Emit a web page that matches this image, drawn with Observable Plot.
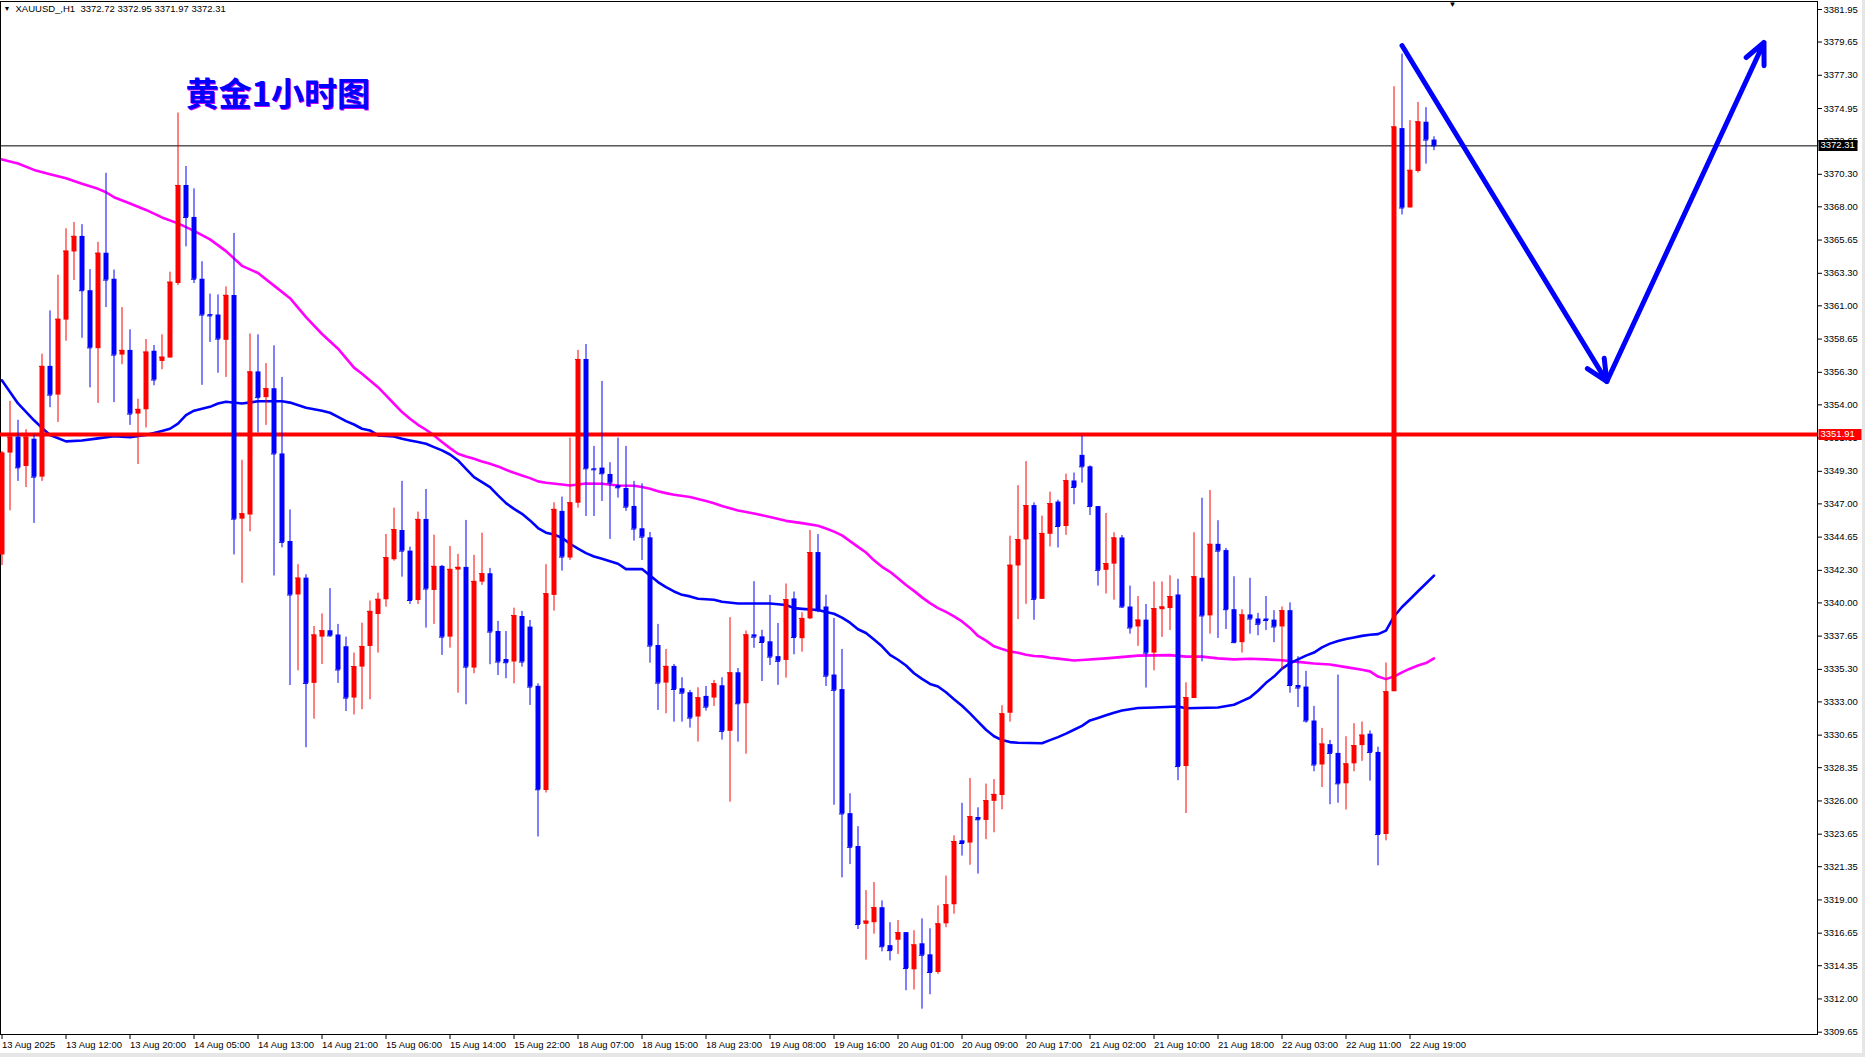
<!DOCTYPE html>
<html><head><meta charset="utf-8">
<script src="https://cdn.jsdelivr.net/npm/d3@7"></script>
<script src="https://cdn.jsdelivr.net/npm/@observablehq/plot@0.6"></script>
<style>
html,body{margin:0;padding:0;background:#fff;overflow:hidden}
#chart svg{display:block}
</style></head><body><div id="chart"></div>
<script>
// ---- OHLC (XAUUSD H1), bar 0 = 13 Aug 2025 ----
const opens = [3343.39,3350.59,3351.72,3349.64,3351.57,3348.89,3356.72,3354.69,3359.99,3364.81,3365.91,3362.07,3357.97,3364.72,3362.88,3357.52,3357.85,3353.35,3353.65,3357.79,3357.07,3357.31,3362.58,3369.51,3367.25,3362.88,3360.38,3360.35,3358.56,3361.74,3345.92,3346.21,3356.33,3354.51,3355.14,3350.53,3344.34,3340.56,3341.75,3334.31,3337.58,3338.03,3337.73,3336.90,3333.27,3335.46,3336.92,3339.18,3340.22,3343.05,3345.12,3343.66,3340.17,3345.90,3340.88,3342.58,3337.58,3342.32,3342.51,3335.39,3341.47,3342.06,3337.98,3336.00,3335.82,3339.04,3338.29,3334.10,3326.74,3340.53,3346.47,3343.17,3347.05,3357.21,3349.48,3349.53,3349.08,3348.28,3348.09,3346.82,3345.24,3344.60,3336.99,3334.33,3335.51,3333.93,3333.65,3331.93,3333.39,3333.27,3334.14,3330.92,3335.06,3332.87,3337.74,3337.60,3337.25,3336.20,3335.93,3340.28,3337.47,3338.87,3343.56,3339.71,3334.90,3333.87,3325.10,3322.78,3317.28,3317.39,3318.45,3315.77,3316.15,3316.69,3314.06,3315.90,3315.12,3313.87,3317.31,3318.66,3323.18,3323.02,3324.83,3324.62,3325.97,3326.38,3332.19,3342.61,3344.45,3346.88,3340.25,3344.85,3347.13,3345.40,3348.62,3350.43,3349.62,3346.81,3342.30,3342.74,3344.59,3339.71,3338.30,3338.78,3336.45,3339.52,3339.60,3340.56,3328.43,3333.24,3341.74,3339.08,3344.14,3343.70,3339.52,3337.19,3339.15,3338.86,3338.86,3338.78,3338.30,3339.45,3334.16,3334.05,3331.65,3328.54,3329.98,3329.36,3327.21,3328.62,3329.91,3330.72,3329.43,3323.63,3333.72,3373.53,3367.92,3370.50,3373.98,3372.72];
const highs = [3350.70,3354.25,3352.91,3352.25,3351.87,3357.58,3360.64,3363.17,3366.45,3366.89,3366.74,3363.56,3365.49,3370.37,3363.53,3360.88,3359.30,3354.40,3358.62,3358.20,3358.95,3363.38,3374.63,3370.85,3369.27,3364.12,3361.83,3361.77,3362.34,3366.12,3350.08,3359.01,3358.95,3356.92,3358.17,3355.94,3346.57,3342.70,3341.99,3338.33,3339.22,3341.01,3338.48,3337.58,3336.45,3338.57,3340.13,3340.69,3344.84,3346.70,3348.59,3343.94,3346.42,3348.02,3344.79,3342.65,3343.99,3343.43,3345.83,3343.36,3344.93,3342.44,3338.69,3337.98,3339.63,3339.40,3338.76,3334.28,3342.70,3347.08,3347.48,3351.65,3357.85,3358.27,3351.06,3355.65,3349.91,3351.65,3351.06,3348.59,3348.42,3344.98,3338.48,3336.71,3335.65,3334.71,3333.81,3334.00,3334.09,3334.52,3334.71,3338.96,3335.36,3338.01,3341.50,3338.06,3340.53,3338.55,3341.34,3340.77,3339.31,3345.12,3344.83,3340.55,3338.90,3336.71,3326.51,3324.18,3319.66,3320.23,3318.93,3317.39,3317.55,3316.69,3316.82,3317.66,3316.96,3318.58,3320.69,3323.53,3325.83,3327.59,3325.51,3327.19,3327.51,3332.73,3344.72,3348.29,3349.99,3347.07,3346.13,3347.83,3347.26,3349.10,3349.18,3351.80,3349.69,3346.81,3346.32,3344.96,3344.77,3341.19,3340.45,3339.89,3341.48,3341.48,3341.92,3341.67,3334.35,3344.96,3347.40,3347.95,3345.81,3343.85,3341.85,3339.52,3341.74,3339.26,3340.45,3339.45,3339.71,3340.00,3336.20,3335.16,3332.68,3331.13,3330.28,3334.90,3330.54,3331.46,3331.58,3330.95,3329.80,3335.75,3376.49,3378.80,3374.09,3375.38,3375.01,3372.95];
const lows = [3342.64,3346.51,3348.59,3348.15,3345.62,3348.59,3353.80,3352.76,3358.50,3362.79,3358.71,3355.20,3354.10,3360.88,3354.16,3356.84,3352.55,3349.78,3352.37,3355.35,3356.48,3357.31,3362.43,3365.17,3362.58,3355.38,3358.41,3356.24,3355.94,3343.39,3341.39,3345.02,3352.01,3352.55,3341.90,3343.89,3334.16,3335.20,3329.76,3331.78,3335.65,3337.58,3334.31,3332.32,3332.08,3332.45,3333.15,3336.45,3339.70,3342.95,3341.82,3339.89,3339.89,3338.22,3338.48,3336.29,3336.80,3333.62,3332.80,3334.99,3341.24,3335.63,3334.87,3334.64,3334.28,3335.46,3332.75,3323.45,3326.56,3339.42,3342.25,3343.00,3346.70,3346.11,3346.11,3347.17,3344.49,3347.41,3346.47,3344.37,3343.00,3335.74,3332.40,3332.16,3331.57,3331.57,3331.15,3330.16,3332.35,3332.68,3330.30,3325.91,3330.16,3329.30,3336.79,3334.44,3335.57,3334.17,3334.68,3336.33,3336.52,3338.82,3339.31,3334.09,3325.70,3320.56,3321.50,3316.91,3314.74,3316.58,3315.33,3314.69,3315.15,3312.58,3312.63,3311.28,3312.30,3313.74,3317.04,3317.99,3322.10,3321.45,3320.83,3323.26,3323.75,3325.37,3331.57,3338.82,3339.90,3338.77,3340.25,3343.96,3343.88,3344.77,3346.94,3348.47,3346.18,3341.19,3340.63,3340.19,3339.60,3337.79,3336.93,3333.98,3335.20,3337.56,3338.04,3327.43,3325.11,3333.24,3335.83,3337.79,3337.49,3338.12,3337.12,3336.45,3337.79,3337.67,3338.04,3337.19,3335.27,3333.61,3332.61,3331.50,3328.06,3326.95,3325.73,3325.84,3325.36,3328.06,3328.80,3327.40,3321.41,3323.18,3333.72,3367.43,3367.92,3370.39,3371.02,3371.97];
const closes = [3350.59,3351.72,3349.55,3351.72,3348.89,3356.72,3354.69,3360.05,3364.87,3365.91,3362.07,3358.03,3364.72,3362.82,3357.52,3357.85,3353.35,3353.68,3357.73,3355.76,3357.37,3362.67,3369.51,3367.25,3362.88,3360.35,3360.29,3358.65,3361.74,3345.92,3346.30,3356.33,3354.51,3355.14,3350.53,3344.28,3340.56,3341.75,3334.31,3337.73,3338.03,3337.67,3335.26,3333.27,3335.50,3336.92,3339.40,3340.25,3343.21,3345.19,3343.66,3340.17,3345.90,3340.98,3342.58,3337.58,3342.37,3342.51,3335.46,3341.52,3342.06,3337.94,3335.82,3335.77,3339.11,3335.82,3334.05,3326.79,3340.65,3346.61,3343.24,3347.08,3357.21,3349.48,3349.41,3349.13,3348.47,3348.14,3346.77,3345.22,3344.65,3336.95,3334.33,3335.51,3333.88,3333.62,3331.86,3333.29,3332.63,3334.28,3330.92,3335.06,3332.87,3337.74,3337.58,3337.20,3336.17,3335.87,3340.23,3337.55,3338.90,3343.56,3339.44,3334.82,3333.82,3325.08,3322.72,3317.26,3317.50,3318.45,3315.69,3315.42,3316.69,3314.15,3315.82,3315.09,3313.87,3317.31,3318.66,3323.13,3322.99,3324.89,3324.67,3326.02,3326.46,3332.16,3342.66,3344.48,3346.88,3340.25,3344.91,3347.02,3345.40,3348.64,3348.16,3349.62,3346.81,3342.30,3342.78,3344.59,3339.71,3338.23,3338.78,3336.45,3339.60,3339.71,3340.45,3328.43,3333.31,3341.85,3339.08,3344.14,3343.66,3339.52,3337.19,3339.15,3338.86,3338.49,3338.75,3338.30,3339.45,3334.16,3333.98,3331.65,3328.54,3330.02,3329.36,3327.21,3328.62,3329.91,3330.65,3329.43,3323.63,3333.72,3373.65,3367.92,3370.58,3374.01,3372.72,3372.31];

// ---- moving averages (bar index, value) ----
const maFastBars = [0,2,4,5,6,8,10,12,14,16,18,20,21,22,23,24,26,27,28,30,32,35,36,38,40,41,42,43,44,45,46,47,49,50,51,52,53,54,55,56,57,58,59,60,61,62,63,64,65,66,67,68,69,70,71,72,73,74,75,76,77,78,80,81,82,83,84,85,86,87,89,90,92,96,98,99,100,102,103,104,105,106,107,108,109,110,111,112,113,114,115,116,117,118,119,120,121,122,123,124,125,126,127,130,131,132,133,134,135,136,137,138,139,140,142,144,147,148,152,154,155,156,157,158,159,160,161,162,163,164,165,166,167,168,169,170,171,172,173,174,175,176,177,178,179];
const maFastVals = [3355.73,3354.10,3352.91,3352.37,3351.87,3351.42,3351.48,3351.63,3351.78,3351.72,3351.87,3352.16,3352.31,3352.67,3353.27,3353.59,3353.86,3354.10,3354.22,3354.10,3354.25,3354.25,3354.16,3353.80,3353.59,3353.44,3353.15,3352.85,3352.61,3352.31,3352.19,3351.84,3351.77,3351.60,3351.48,3351.37,3351.25,3351.01,3350.78,3350.49,3350.07,3349.48,3348.89,3348.54,3348.19,3347.60,3347.05,3346.65,3346.30,3345.83,3345.29,3344.96,3344.84,3344.60,3344.18,3343.83,3343.52,3343.28,3343.12,3342.95,3342.77,3342.39,3342.39,3341.94,3341.47,3341.12,3340.81,3340.57,3340.46,3340.29,3340.22,3340.08,3339.96,3339.96,3339.85,3339.63,3339.58,3339.50,3339.36,3339.23,3338.96,3338.60,3338.14,3337.87,3337.41,3336.93,3336.33,3335.98,3335.57,3335.03,3334.63,3334.27,3334.09,3333.68,3333.19,3332.73,3332.19,3331.60,3331.03,3330.57,3330.30,3330.16,3330.11,3330.08,3330.30,3330.51,3330.76,3331.03,3331.31,3331.69,3331.87,3332.06,3332.24,3332.39,3332.57,3332.61,3332.68,3332.55,3332.61,3332.80,3333.06,3333.31,3333.79,3334.35,3334.79,3335.35,3335.72,3336.01,3336.27,3336.49,3336.86,3337.12,3337.31,3337.45,3337.56,3337.67,3337.75,3337.79,3338.04,3339.04,3339.71,3340.26,3340.82,3341.37,3341.93];
const maSlowBars = [0,2,4,6,8,10,12,13,14,16,18,20,22,24,26,28,30,32,34,36,38,40,42,43,44,45,46,47,48,49,50,51,52,53,54,55,56,57,58,59,60,61,62,63,64,65,66,67,68,70,71,72,73,75,77,79,80,81,82,83,84,86,88,89,90,92,94,96,98,100,102,103,104,105,106,107,108,109,110,111,112,113,114,115,116,117,118,119,120,121,122,123,124,125,126,127,128,129,130,131,132,134,135,138,142,146,148,150,152,154,156,158,160,162,164,166,168,170,171,172,173,174,175,176,177,178,179];
const maSlowVals = [3371.35,3371.06,3370.61,3370.31,3370.02,3369.63,3369.27,3369.03,3368.68,3368.23,3367.78,3367.25,3366.83,3366.30,3365.70,3364.87,3363.83,3363.32,3362.43,3361.54,3360.20,3359.01,3357.97,3357.31,3356.63,3356.20,3355.73,3355.25,3354.67,3354.08,3353.49,3353.02,3352.59,3352.24,3351.84,3351.37,3350.94,3350.54,3350.35,3350.19,3350.00,3349.83,3349.65,3349.41,3349.20,3349.01,3348.82,3348.59,3348.49,3348.37,3348.30,3348.37,3348.44,3348.42,3348.30,3348.28,3348.19,3348.07,3347.90,3347.76,3347.64,3347.48,3347.20,3347.05,3346.85,3346.53,3346.32,3346.07,3345.80,3345.64,3345.45,3345.26,3345.04,3344.77,3344.37,3343.96,3343.56,3343.01,3342.55,3342.20,3341.74,3341.26,3340.85,3340.39,3339.98,3339.63,3339.36,3339.04,3338.69,3338.23,3337.66,3337.33,3336.93,3336.74,3336.57,3336.47,3336.33,3336.25,3336.22,3336.12,3336.06,3335.93,3335.96,3336.08,3336.27,3336.31,3336.20,3336.20,3336.08,3336.01,3336.05,3336.01,3335.94,3335.83,3335.72,3335.64,3335.46,3335.27,3335.16,3334.79,3334.61,3334.79,3335.09,3335.35,3335.57,3335.75,3336.08];

// ---- horizontal levels ----
const currentPrice = 3372.31;
const supportLevel = 3351.91;

// ---- drawn arrow path (bar index, price) ----
const arrowBars = [175, 200.6, 220.25];
const arrowPrices = [3379.40, 3355.65, 3379.62];

// ---- axis ticks ----
const yTicks = [3381.95,3379.65,3377.30,3374.95,3372.65,3370.30,3368.00,3365.65,3363.30,3361.00,3358.65,3356.30,3354.00,3351.65,3349.30,3347.00,3344.65,3342.30,3340.00,3337.65,3335.30,3333.00,3330.65,3328.35,3326.00,3323.65,3321.35,3319.00,3316.65,3314.35,3312.00,3309.65];
const xTickBars = [0,8,16,24,32,40,48,56,64,72,80,88,96,104,112,120,128,136,144,152,160,168,176];
const xTickLabels = ["13 Aug 2025","13 Aug 12:00","13 Aug 20:00","14 Aug 05:00","14 Aug 13:00","14 Aug 21:00","15 Aug 06:00","15 Aug 14:00","15 Aug 22:00","18 Aug 07:00","18 Aug 15:00","18 Aug 23:00","19 Aug 08:00","19 Aug 16:00","20 Aug 01:00","20 Aug 09:00","20 Aug 17:00","21 Aug 02:00","21 Aug 10:00","21 Aug 18:00","22 Aug 03:00","22 Aug 11:00","22 Aug 19:00"];
const shiftMarkerBar = 181.3;

const titleText = "黄金1小时图";
const headerText = "XAUUSD_,H1\u00a0\u00a03372.72 3372.95 3371.97 3372.31";

// ---- build tables ----
const bars = opens.map((o, i) => ({i, open: o, high: highs[i], low: lows[i], close: closes[i]}));
const colorOf = d => d.close > d.open ? "#ff0000" : "#0000ff";
const maFast = maFastBars.map((b, k) => ({b, v: maFastVals[k]}));
const maSlow = maSlowBars.map((b, k) => ({b, v: maSlowVals[k]}));
const arrowSegs = [0, 1].map(k => ({x1: arrowBars[k], y1: arrowPrices[k], x2: arrowBars[k+1], y2: arrowPrices[k+1]}));
const xLabel = new Map(xTickBars.map((b, k) => [b, xTickLabels[k]]));
const BW = 0.32; // body half width in bar units

const font = "'Liberation Sans', Arial, sans-serif";

const chart = Plot.plot({
  width: 1865, height: 1057,
  marginTop: 1, marginLeft: 0, marginRight: 48, marginBottom: 23,
  x: {type: "linear", domain: [0, 227], range: [1.5, 1817.5]},
  y: {type: "linear", domain: [3309.65, 3381.95], range: [1031.7, 9]},
  style: {fontFamily: font, fontSize: "9.5px", color: "#000", background: "#fff", overflow: "visible"},
  marks: [
    Plot.frame({stroke: "#000", strokeWidth: 1}),
    Plot.axisY(yTicks, {anchor: "right", tickSize: 4, tickPadding: 2, tickFormat: d => d.toFixed(2), fill: "#000", stroke: "#000", fontSize: 9.5}),
    Plot.axisX(xTickBars, {anchor: "bottom", tickSize: 5, tickPadding: 2, tickFormat: d => xLabel.get(d), textAnchor: "start", dx: 0, fill: "#000", stroke: "#000", fontSize: 9.5}),
    // moving averages
    Plot.line(maSlow, {x: "b", y: "v", stroke: "#ff00ff", strokeWidth: 2.6, curve: "linear"}),
    Plot.line(maFast, {x: "b", y: "v", stroke: "#0000ff", strokeWidth: 2.6, curve: "linear"}),
    // levels
    Plot.ruleY([currentPrice], {stroke: "#000", strokeWidth: 1}),
    Plot.ruleY([supportLevel], {stroke: "#ff0000", strokeWidth: 4}),
    // candles: wicks, bodies, min-height body edge
    Plot.ruleX(bars, {x: "i", y1: "low", y2: "high", stroke: colorOf, strokeWidth: 1}),
    Plot.ruleX(bars, {x: "i", y1: "open", y2: "close", stroke: colorOf, strokeWidth: 5}),
    Plot.ruleY(bars, {y: "close", x1: d => d.i - BW, x2: d => d.i + BW, stroke: colorOf, strokeWidth: 1}),
    // hand-drawn arrows
    Plot.arrow(arrowSegs, {x1: "x1", y1: "y1", x2: "x2", y2: "y2", stroke: "#0000ff", strokeWidth: 5, headLength: 7, headAngle: 50}),
    // texts
    Plot.text([headerText], {frameAnchor: "top-left", dx: 15, dy: 4, textAnchor: "start", lineAnchor: "top", fill: "#000", fontSize: 9.5}),
    Plot.text(["▼"], {frameAnchor: "top-left", dx: 3, dy: 5, textAnchor: "start", lineAnchor: "top", fill: "#000", fontSize: 7}),
    Plot.text([shiftMarkerBar], {x: d => d, frameAnchor: "top", dy: 0, text: () => "▼", lineAnchor: "top", fill: "#000", fontSize: 8}),
    Plot.text([titleText], {frameAnchor: "top-left", dx: 186, dy: 82, textAnchor: "start", lineAnchor: "top", fill: "#cc00ff", fontSize: 33, fontWeight: "bold", fontFamily: "'Noto Sans CJK SC', sans-serif"}),
    Plot.text([titleText], {frameAnchor: "top-left", dx: 185, dy: 81, textAnchor: "start", lineAnchor: "top", fill: "#0000ff", fontSize: 33, fontWeight: "bold", fontFamily: "'Noto Sans CJK SC', sans-serif"})
  ]
});

document.getElementById("chart").appendChild(chart);

// price tag boxes on the right axis
const ys = chart.scale("y");
const xs = chart.scale("x");
const axisX0 = xs.range[1];
const svg = d3.select(chart);
for (const [v, bg, w] of [[currentPrice, "#000", 39], [supportLevel, "#ff0000", 43]]) {
  const y = Math.round(ys.apply(v));
  svg.append("rect").attr("x", axisX0 + 1).attr("y", y - 5).attr("width", w).attr("height", 11).attr("fill", bg);
  svg.append("text").attr("x", axisX0 + 3).attr("y", y).attr("dy", "0.35em").attr("text-anchor", "start")
    .attr("fill", "#fff").attr("font-family", font).attr("font-size", "9.5px").text(v.toFixed(2));
}
// window edge strips
svg.append("rect").attr("x", 0).attr("y", 1053).attr("width", 1865).attr("height", 4).attr("fill", "#e6e6e6");
svg.append("rect").attr("x", 1862).attr("y", 0).attr("width", 3).attr("height", 1057).attr("fill", "#e6e6e6");
</script></body></html>
